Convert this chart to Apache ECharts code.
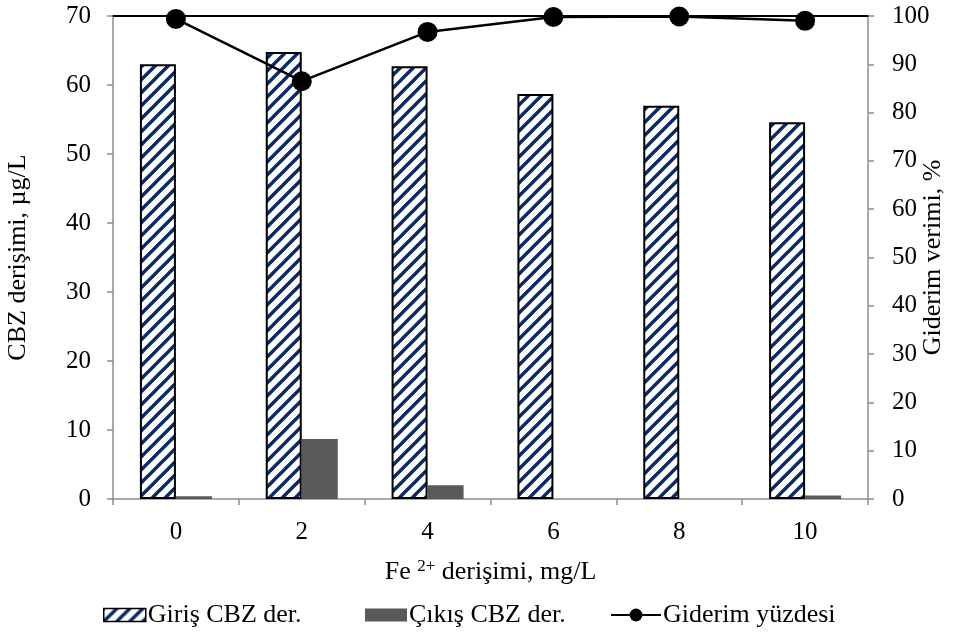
<!DOCTYPE html>
<html>
<head>
<meta charset="utf-8">
<script src="https://cdn.jsdelivr.net/npm/echarts@6/dist/echarts.min.js"></script>
<style>
  html, body { margin: 0; padding: 0; background: #fff; }
  #chart { width: 954px; height: 632px; }
</style>
</head>
<body>
<div id="chart"></div>
<script>
// Fe2+ dose levels (mg/L)
const categories = ['0', '2', '4', '6', '8', '10'];
// Influent CBZ concentration (µg/L)
const girisCBZ = [63.0, 64.8, 62.7, 58.7, 57.0, 54.6];
// Effluent CBZ concentration (µg/L)
const cikisCBZ = [0.4, 8.7, 2.0, 0.0, 0.0, 0.5];
// Removal efficiency (%)
const giderimYuzdesi = [99.4, 86.5, 96.7, 99.8, 99.9, 99.0];

const FONT = '"Liberation Serif", "Times New Roman", serif';
const TICK_SIZE = 25;
const TITLE_SIZE = 26;
const LEGEND_SIZE = 26;

// Diagonal navy hatching for the influent bars
function hatchPattern() {
  const s = 13;
  const c = document.createElement('canvas');
  c.width = s; c.height = s;
  const g = c.getContext('2d');
  g.fillStyle = '#ffffff';
  g.fillRect(0, 0, s, s);
  g.strokeStyle = '#0b2a64';
  g.lineWidth = 3.4;
  g.beginPath();
  g.moveTo(-s, 2 * s); g.lineTo(2 * s, -s);
  g.moveTo(-s, s); g.lineTo(s, -s);
  g.moveTo(0, 2 * s); g.lineTo(2 * s, 0);
  g.stroke();
  return c;
}
const hatch = { image: hatchPattern(), repeat: 'repeat' };

function legendBlock(name, left, extra) {
  return Object.assign({
    left: left,
    top: 597,
    itemWidth: 42,
    itemHeight: 13,
    textStyle: { fontFamily: FONT, fontSize: LEGEND_SIZE, color: '#000', padding: [0, 0, 0, -3] },
    data: [name]
  }, extra || {});
}

const chart = echarts.init(document.getElementById('chart'), null, { renderer: 'canvas' });

chart.setOption({
  animation: false,
  backgroundColor: '#ffffff',
  textStyle: { fontFamily: FONT, color: '#000' },
  grid: { left: 113, right: 86, top: 16, bottom: 133, containLabel: false, outerBoundsMode: 'none' },
  legend: [
    legendBlock({ name: 'Giriş CBZ der.', icon: 'rect', itemStyle: { color: hatch, borderColor: '#000', borderWidth: 1.5 } }, 98),
    legendBlock({ name: 'Çıkış CBZ der.', icon: 'rect' }, 360),
    legendBlock({ name: 'Giderim yüzdesi' }, 605, { itemWidth: 50, itemHeight: 16 })
  ],
  xAxis: [
    {
      type: 'category',
      data: categories,
      position: 'bottom',
      axisLine: { onZero: false, lineStyle: { color: '#8c8c8c', width: 1.5 } },
      axisTick: { show: true, alignWithLabel: false, length: 6, lineStyle: { color: '#8c8c8c', width: 1.5 } },
      axisLabel: { fontFamily: FONT, fontSize: TICK_SIZE, color: '#000', margin: 21 },
      name: '{n|Fe }{s|2+}{n| derişimi, mg/L}',
      nameLocation: 'middle',
      nameGap: 59,
      nameTextStyle: {
        rich: {
          n: { fontFamily: FONT, fontSize: TITLE_SIZE, color: '#000' },
          s: { fontFamily: FONT, fontSize: 17, color: '#000', verticalAlign: 'top', padding: [0, 0, 11, 0] }
        }
      }
    },
    {
      type: 'category',
      data: categories,
      position: 'top',
      axisLine: { onZero: false, lineStyle: { color: '#000', width: 2 } },
      axisTick: { show: false },
      axisLabel: { show: false }
    }
  ],
  yAxis: [
    {
      type: 'value',
      min: 0, max: 70, interval: 10,
      position: 'left',
      name: 'CBZ derişimi, µg/L',
      nameLocation: 'middle',
      nameGap: 82,
      nameTextStyle: { fontFamily: FONT, fontSize: TITLE_SIZE, color: '#000' },
      axisLine: { show: true, lineStyle: { color: '#8c8c8c', width: 1.5 } },
      axisTick: { show: true, length: 6, lineStyle: { color: '#8c8c8c', width: 1.5 } },
      axisLabel: { fontFamily: FONT, fontSize: TICK_SIZE, color: '#000', margin: 22 },
      splitLine: { show: false }
    },
    {
      type: 'value',
      min: 0, max: 100, interval: 10,
      position: 'right',
      name: 'Giderim verimi, %',
      nameLocation: 'middle',
      nameGap: 52,
      nameRotate: 90,
      nameMoveOverlap: false,
      nameTextStyle: { fontFamily: FONT, fontSize: TITLE_SIZE, color: '#000' },
      axisLine: { show: true, lineStyle: { color: '#8c8c8c', width: 1.5 } },
      axisTick: { show: true, length: 6, lineStyle: { color: '#8c8c8c', width: 1.5 } },
      axisLabel: { fontFamily: FONT, fontSize: TICK_SIZE, color: '#000', margin: 24 },
      splitLine: { show: false }
    }
  ],
  series: [
    {
      name: 'Giriş CBZ der.',
      type: 'bar',
      data: girisCBZ,
      barWidth: 36,
      barGap: '0%',
      itemStyle: { color: hatch, borderColor: '#000', borderWidth: 2 }
    },
    {
      name: 'Çıkış CBZ der.',
      type: 'bar',
      data: cikisCBZ,
      barWidth: 36,
      barGap: '0%',
      itemStyle: { color: '#595959' }
    },
    {
      name: 'Giderim yüzdesi',
      type: 'line',
      yAxisIndex: 1,
      data: giderimYuzdesi,
      symbol: 'circle',
      symbolSize: 20,
      z: 5,
      lineStyle: { color: '#000', width: 2.5 },
      itemStyle: { color: '#000' }
    }
  ]
});
</script>
</body>
</html>
